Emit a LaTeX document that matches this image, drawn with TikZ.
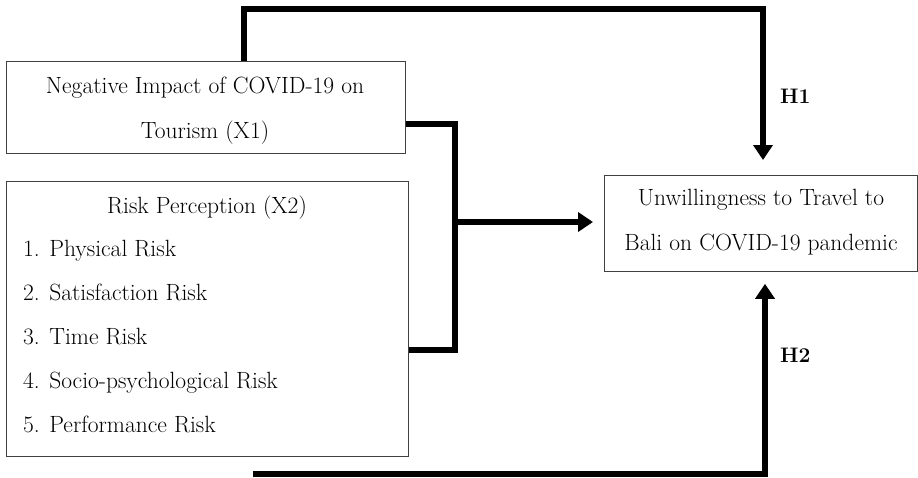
\documentclass[tikz,border=0pt]{standalone}
\usetikzlibrary{arrows.meta,calc}
\begin{document}
\begin{tikzpicture}[x=1pt,y=-1pt,
  box/.style={draw=black!75,line width=0.8pt,inner sep=0pt,anchor=north west},
  txt/.style={font=\fontsize{23.5}{26}\selectfont,inner sep=0pt,anchor=base},
  item/.style={txt,anchor=base west},
  conn/.style={line width=5.5pt,line join=miter},
  arr/.style={conn,-{Triangle[length=15pt,width=19pt]}},
  hlab/.style={font=\fontsize{21}{24}\selectfont\bfseries,inner sep=0pt,anchor=base west}]
\useasboundingbox (0,0) rectangle (918,477);
% boxes
\node[box,minimum width=399pt,minimum height=92pt] (X1) at (6,61) {};
\node[box,minimum width=402pt,minimum height=275pt] (X2) at (6,181) {};
\node[box,minimum width=313pt,minimum height=96pt] (Y) at (604,175) {};
% texts
\node[txt] (x1a) at (205,93) {Negative Impact of COVID-19 on};
\node[txt] (x1b) at (205,138) {Tourism (X1)};
\node[txt] (x2t) at (207,213) {Risk Perception (X2)};
\node[item] (r1) at (23,256) {1. Physical Risk};
\node[item] (r2) at (23,300) {2. Satisfaction Risk};
\node[item] (r3) at (23,344) {3. Time Risk};
\node[item] (r4) at (23,388) {4. Socio-psychological Risk};
\node[item] (r5) at (23,432) {5. Performance Risk};
\node[txt] (ya) at (761,205) {Unwillingness to Travel to};
\node[txt] (yb) at (761,250) {Bali on COVID-19 pandemic};
\node[hlab] (h1) at (780,103) {H1};
\node[hlab] (h2) at (780,362) {H2};
% coordinates
\coordinate (tA) at (244,61);
\coordinate (tC) at (763,9);
\coordinate (bA) at (253,474);
\coordinate (bC) at (765,474);
\coordinate (jx) at (455,222);
\coordinate (j1) at (0,124);
\coordinate (j2) at (0,350);
% connectors
\draw[arr] (tA |- X1.north) -- (tA |- tC) -- (tC) -- ([yshift=15pt]tC |- Y.north);
\draw[conn] (X1.east |- j1) -| (jx) |- (X2.east |- j2);
\draw[arr] (jx) -- ([xshift=-11pt]Y.west |- jx);
\draw[arr] (bA) -- (bC) -- ([yshift=-12pt]bC |- Y.south);
\end{tikzpicture}
\end{document}
